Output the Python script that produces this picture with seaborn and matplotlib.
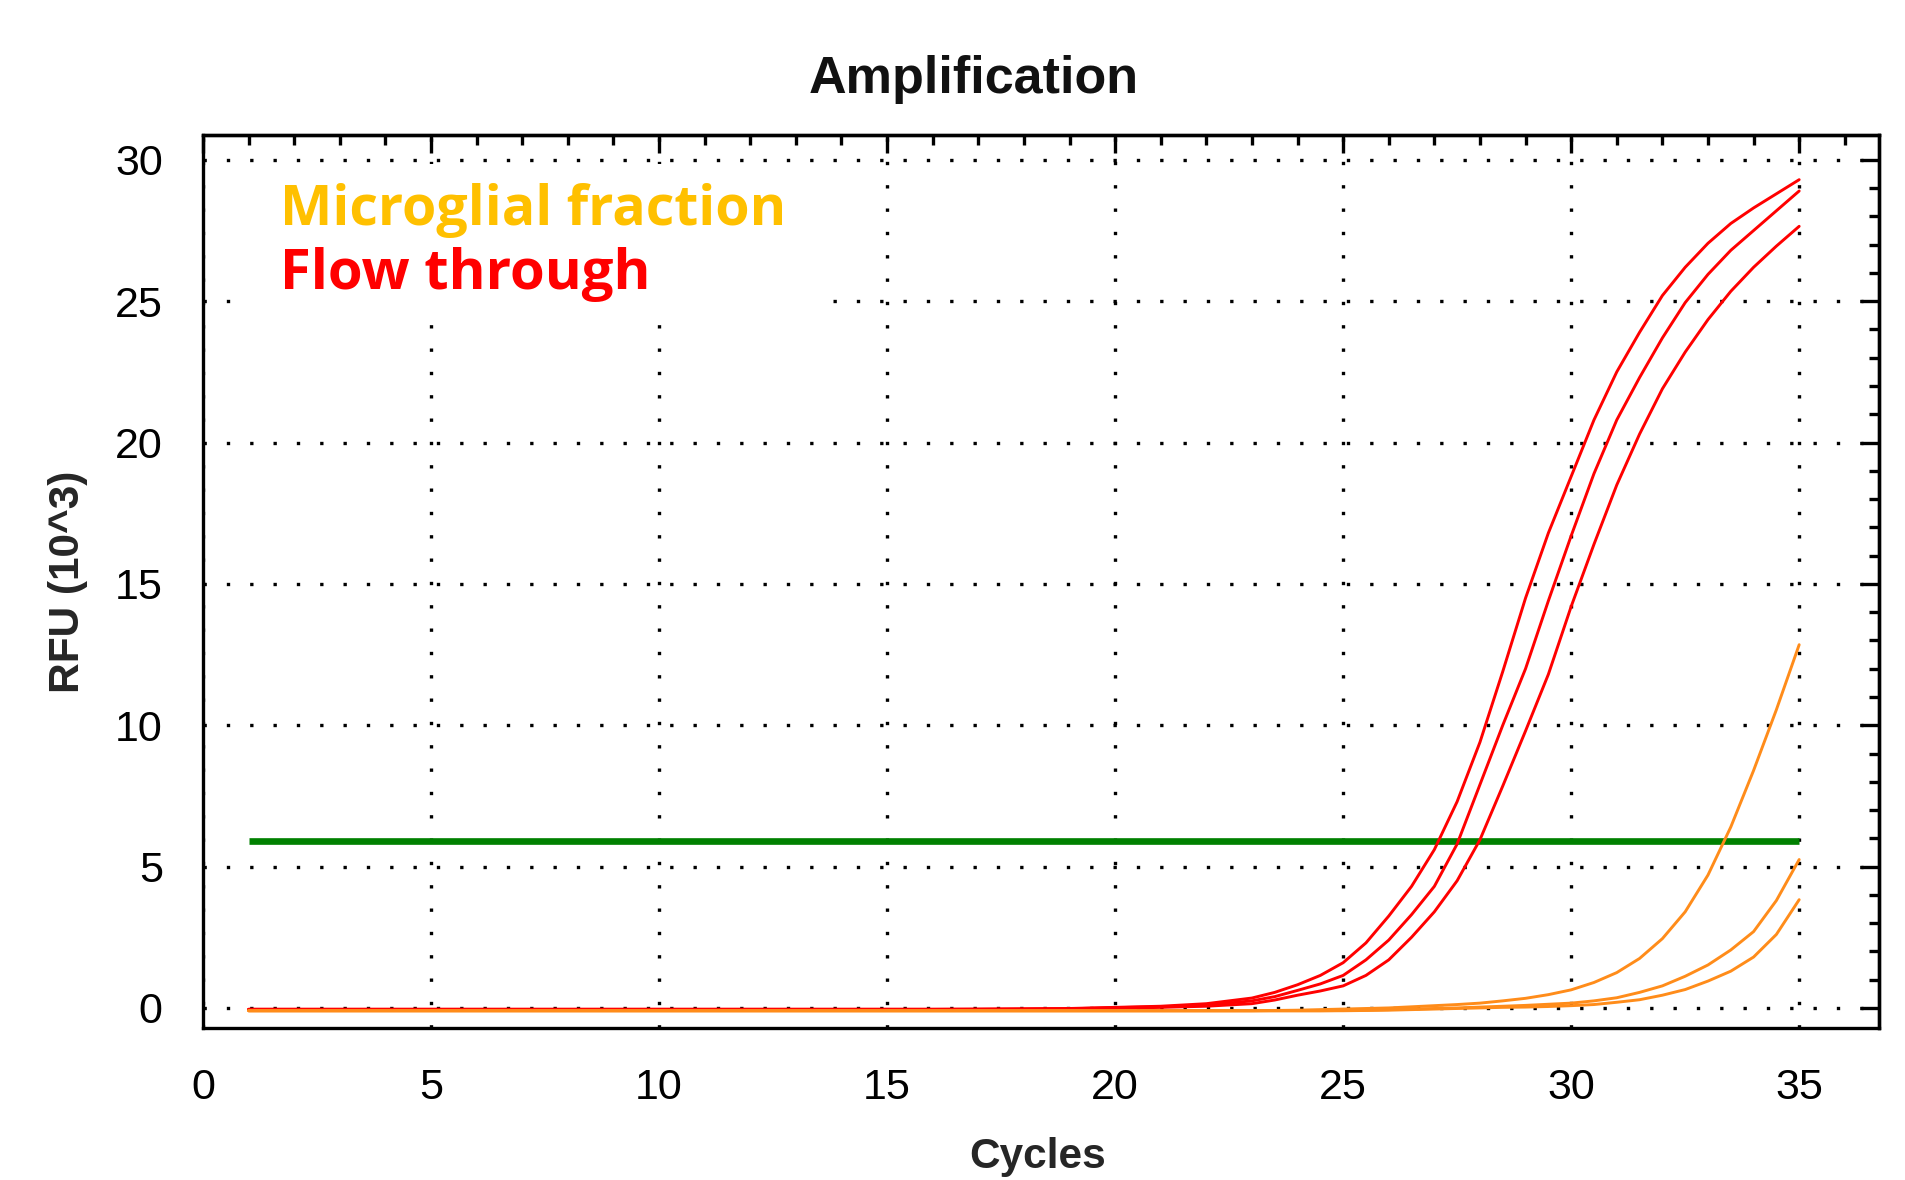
import matplotlib
matplotlib.use("Agg")
import matplotlib.pyplot as plt
import seaborn as sns
import pandas as pd
from matplotlib.ticker import MultipleLocator
from matplotlib.patches import Rectangle

# ---------------- data (RFU x10^3) ----------------
cycles = [1, 2, 3, 4, 5, 6, 7, 8, 9, 10, 11, 12, 13, 14, 15, 16, 17, 18, 19, 20,
          21, 22, 23, 23.5, 24, 24.5, 25, 25.5, 26, 26.5, 27, 27.5, 28, 28.5,
          29, 29.5, 30, 30.5, 31, 31.5, 32, 32.5, 33, 33.5, 34, 34.5, 35]

flow_a = [-0.05, -0.05, -0.05, -0.05, -0.05, -0.05, -0.05, -0.05, -0.05, -0.05,
          -0.05, -0.05, -0.05, -0.05, -0.05, -0.05, -0.04, -0.03, -0.02, 0.02,
          0.06, 0.15, 0.35, 0.55, 0.82, 1.15, 1.60, 2.30, 3.25, 4.30,
          5.60, 7.30, 9.40, 11.9, 14.5, 16.8, 18.8, 20.8, 22.5, 23.9,
          25.2, 26.2, 27.05, 27.75, 28.3, 28.8, 29.3]
flow_b = [-0.05, -0.05, -0.05, -0.05, -0.05, -0.05, -0.05, -0.05, -0.05, -0.05,
          -0.05, -0.05, -0.05, -0.05, -0.05, -0.05, -0.05, -0.04, -0.03, 0.01,
          0.04, 0.10, 0.25, 0.40, 0.62, 0.85, 1.15, 1.70, 2.40, 3.30,
          4.30, 5.80, 7.90, 10.0, 12.0, 14.4, 16.7, 18.9, 20.8, 22.3,
          23.7, 24.95, 25.95, 26.8, 27.5, 28.2, 28.9]
flow_c = [-0.05, -0.05, -0.05, -0.05, -0.05, -0.05, -0.05, -0.05, -0.05, -0.05,
          -0.05, -0.05, -0.05, -0.05, -0.05, -0.05, -0.05, -0.05, -0.04, -0.02,
          0.02, 0.06, 0.15, 0.28, 0.45, 0.60, 0.78, 1.15, 1.70, 2.50,
          3.40, 4.50, 5.95, 7.85, 9.80, 11.8, 14.2, 16.4, 18.5, 20.3,
          21.9, 23.2, 24.35, 25.35, 26.2, 26.95, 27.65]
micro_a = [-0.10, -0.10, -0.10, -0.10, -0.10, -0.10, -0.10, -0.10, -0.10, -0.10,
           -0.10, -0.10, -0.10, -0.10, -0.10, -0.10, -0.10, -0.10, -0.10, -0.10,
           -0.10, -0.10, -0.10, -0.09, -0.08, -0.06, -0.04, -0.02, 0.00, 0.04,
           0.08, 0.12, 0.17, 0.25, 0.34, 0.47, 0.64, 0.90, 1.25, 1.75,
           2.45, 3.40, 4.70, 6.40, 8.40, 10.55, 12.85]
micro_b = [-0.10, -0.10, -0.10, -0.10, -0.10, -0.10, -0.10, -0.10, -0.10, -0.10,
           -0.10, -0.10, -0.10, -0.10, -0.10, -0.10, -0.10, -0.10, -0.10, -0.10,
           -0.10, -0.10, -0.10, -0.10, -0.10, -0.10, -0.09, -0.08, -0.06, -0.04,
           -0.02, 0.00, 0.03, 0.06, 0.09, 0.13, 0.17, 0.25, 0.36, 0.55,
           0.78, 1.12, 1.52, 2.05, 2.70, 3.80, 5.25]
micro_c = [-0.10, -0.10, -0.10, -0.10, -0.10, -0.10, -0.10, -0.10, -0.10, -0.10,
           -0.10, -0.10, -0.10, -0.10, -0.10, -0.10, -0.10, -0.10, -0.10, -0.10,
           -0.10, -0.10, -0.10, -0.10, -0.10, -0.10, -0.10, -0.09, -0.08, -0.06,
           -0.04, -0.02, 0.00, 0.02, 0.03, 0.05, 0.08, 0.12, 0.20, 0.29,
           0.45, 0.65, 0.95, 1.30, 1.80, 2.60, 3.83]

threshold = 5.92
threshold_start, threshold_end = 1, 35

x_ticks_major, x_ticks_minor = 5, 1
y_ticks_major, y_ticks_minor = 5, 1

wells = {
    ("Flow through", "F1"): flow_a,
    ("Flow through", "F2"): flow_b,
    ("Flow through", "F3"): flow_c,
    ("Microglial fraction", "M1"): micro_a,
    ("Microglial fraction", "M2"): micro_b,
    ("Microglial fraction", "M3"): micro_c,
}
rows = []
for (frac, well), vals in wells.items():
    assert len(vals) == len(cycles)
    for c, v in zip(cycles, vals):
        rows.append({"cycle": c, "rfu": v, "fraction": frac, "well": well})
df = pd.DataFrame(rows)

# ---------------- style ----------------
sns.set_style("white")
plt.rcParams["font.family"] = ["Liberation Sans", "DejaVu Sans"]

W, H = 1906, 1180
fig = plt.figure(figsize=(W / 100, H / 100), dpi=100)
ax_left, ax_right, ax_top, ax_bottom = 203, 1879, 135, 1028
ax = fig.add_axes([ax_left / W, 1 - ax_bottom / H,
                   (ax_right - ax_left) / W, (ax_bottom - ax_top) / H])

palette = {"Flow through": "#FF0000", "Microglial fraction": "#FF8C1A"}
ax.hlines(threshold, threshold_start, threshold_end, color="#008000",
          lw=4.8, zorder=1.5)
sns.lineplot(data=df, x="cycle", y="rfu", hue="fraction", units="well",
             estimator=None, palette=palette, legend=False, lw=2.1,
             ax=ax, zorder=2)

ax.set_xlim(0, 36.75)
ax.set_ylim(-0.71, 30.88)
ax.xaxis.set_major_locator(MultipleLocator(x_ticks_major))
ax.xaxis.set_minor_locator(MultipleLocator(x_ticks_minor))
ax.yaxis.set_major_locator(MultipleLocator(y_ticks_major))
ax.yaxis.set_minor_locator(MultipleLocator(y_ticks_minor))

ax.tick_params(which="major", direction="inout", length=25, width=2.4,
               labelsize=31, pad=16.5, colors="black")
ax.tick_params(which="minor", direction="inout", length=14.4, width=2.4,
               colors="black")
ax.grid(True, which="major", color="black", lw=2.4, linestyle=(0, (1, 6)))
for s in ax.spines.values():
    s.set_linewidth(2.4)
    s.set_color("black")

secx = ax.secondary_xaxis("top")
secx.xaxis.set_major_locator(MultipleLocator(x_ticks_major))
secx.xaxis.set_minor_locator(MultipleLocator(x_ticks_minor))
secx.tick_params(which="major", direction="in", length=13, width=2.4,
                 labeltop=False, colors="black")
secx.tick_params(which="minor", direction="in", length=7.2, width=2.4,
                 colors="black")
secy = ax.secondary_yaxis("right")
secy.yaxis.set_major_locator(MultipleLocator(y_ticks_major))
secy.yaxis.set_minor_locator(MultipleLocator(y_ticks_minor))
secy.tick_params(which="major", direction="in", length=13, width=2.4,
                 labelright=False, colors="black")
secy.tick_params(which="minor", direction="in", length=7.2, width=2.4,
                 colors="black")
for sa in (secx, secy):
    for s in sa.spines.values():
        s.set_linewidth(2.4)
        s.set_color("black")

ax.set_xlabel("Cycles", fontsize=30.5, fontweight="bold")
ax.xaxis.set_label_coords(0.498, -0.122)
ax.set_ylabel("RFU (10^3)", fontsize=30.5, fontweight="bold")
ax.yaxis.set_label_coords(-0.0686, 0.5)

fig.text(974 / W, 1 - 93 / H, "Amplification", ha="center", va="baseline",
         fontsize=37.5, fontweight="bold", color="#111111")

# legend-like annotation with white backing
ax.add_patch(Rectangle((0.027, 0.804), 0.338, 0.1635, transform=ax.transAxes,
                       facecolor="white", edgecolor="none", zorder=1))
ax.text(0.0459, 0.8992, "Microglial fraction", transform=ax.transAxes,
        color="#FFC000", fontsize=40, fontweight="bold",
        family=["Open Sans", "DejaVu Sans"], va="baseline", zorder=5)
ax.text(0.0459, 0.8275, "Flow through", transform=ax.transAxes,
        color="#FF0000", fontsize=40.5, fontweight="bold",
        family=["Open Sans", "DejaVu Sans"], va="baseline", zorder=5)

fig.savefig("out.png", dpi=100, facecolor="white")
